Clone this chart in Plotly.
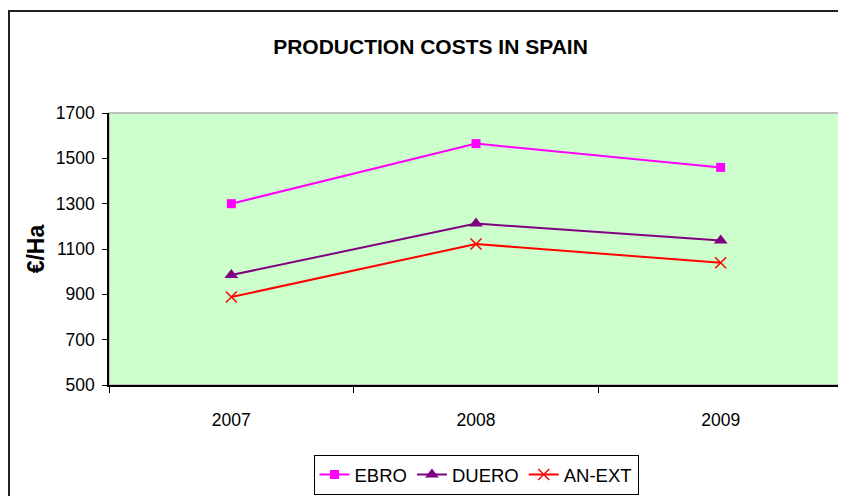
import plotly.graph_objects as go

years = ["2007", "2008", "2009"]
ebro = [1300, 1565, 1460]
duero = [985, 1212, 1137]
an_ext = [888, 1122, 1039]
y_ticks = [500, 700, 900, 1100, 1300, 1500, 1700]

FONT = "Liberation Sans, Arial, sans-serif"

# page body has an 8px margin; work in screen coords and convert
OFF = 8
W, H = 838, 488
L, T = 109 - OFF, 113 - OFF
R = W - (843 - OFF)
B = H - (385 - OFF)
pw, ph = W - L - R, H - T - B

def px(x):
    return (x - OFF - L) / pw

def py(y):
    return (H - B - (y - OFF)) / ph

fig = go.Figure()
fig.add_trace(go.Scatter(x=years, y=ebro, name="EBRO", mode="lines+markers",
                         line=dict(color="#FF00FF", width=2),
                         marker=dict(symbol="square", size=9, color="#FF00FF")))
fig.add_trace(go.Scatter(x=years, y=duero, name="DUERO", mode="lines+markers",
                         line=dict(color="#800080", width=2),
                         marker=dict(symbol="triangle-up", size=12, color="#800080")))
fig.add_trace(go.Scatter(x=years, y=an_ext, name="AN-EXT", mode="lines+markers",
                         line=dict(color="#FF0000", width=2),
                         marker=dict(symbol="x-thin-open", size=11, color="#FF0000",
                                     line=dict(color="#FF0000", width=1.5))))

fig.update_layout(
    width=W, height=H,
    margin=dict(l=L, r=R, t=T, b=B, autoexpand=False),
    paper_bgcolor="white",
    plot_bgcolor="#CCFFCC",
    title=dict(text="<b>PRODUCTION COSTS IN SPAIN</b>",
               font=dict(family=FONT, size=21, color="black"),
               x=(430.5 - OFF) / W, xref="container", xanchor="center",
               y=1 - (47 - OFF) / H, yref="container", yanchor="middle"),
    showlegend=True,
    legend=dict(orientation="h", x=0.5, xanchor="center", y=py(455), yanchor="top",
                bordercolor="black", borderwidth=1, bgcolor="white",
                font=dict(family=FONT, size=18.5, color="black"),
                itemwidth=30, tracegroupgap=0),
    xaxis=dict(type="category", range=[-0.5, 2.5], tickson="boundaries",
               ticks="outside", ticklen=6,
               tickcolor="black", showline=True, linecolor="black", linewidth=1.5,
               showgrid=False, zeroline=False,
               tickfont=dict(family=FONT, size=17.5, color="black"),
               ticklabelstandoff=18, fixedrange=True),
    yaxis=dict(range=[500, 1700], tickvals=y_ticks, ticks="outside", ticklen=5,
               tickcolor="black", showline=True, linecolor="black", linewidth=1.5,
               showgrid=False, zeroline=False,
               tickfont=dict(family=FONT, size=17.5, color="black"),
               ticklabelstandoff=4,
               title=dict(text="<b>€/Ha</b>", font=dict(family=FONT, size=23, color="black"),
                          standoff=5),
               fixedrange=True),
    shapes=[
        dict(type="rect", xref="paper", yref="paper", x0=0, x1=1, y0=0, y1=1,
             line=dict(color="#BFBFBF", width=2), fillcolor="rgba(0,0,0,0)", layer="below"),
        dict(type="rect", xref="paper", yref="paper", x0=px(9), x1=px(870), y0=py(520), y1=py(11),
             line=dict(color="#222222", width=2), fillcolor="rgba(0,0,0,0)", layer="above"),
    ],
)

fig.write_html("out.html")
